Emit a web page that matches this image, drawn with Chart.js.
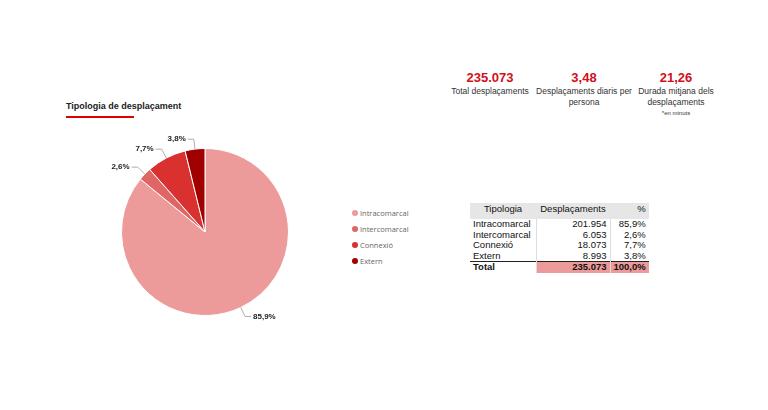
<!DOCTYPE html>
<html>
<head>
<meta charset="utf-8">
<script src="https://cdn.jsdelivr.net/npm/chart.js@4"></script>
<style>
  body { margin: 0; width: 768px; height: 410px; background: #fff; font-family: Arial, "Liberation Sans", sans-serif; position: relative; overflow: hidden; }
  .title { position: absolute; left: 66px; top: 101px; font-size: 9px; font-weight: bold; color: #222; }
  .title-line { position: absolute; left: 66px; top: 116px; width: 68px; height: 2px; background: #d00; }
  #wrap { position: absolute; left: 60px; top: 120px; width: 290px; height: 230px; }
  .kpi { position: absolute; top: 70px; text-align: center; color: #333; font-size: 8.5px; line-height: 11px; }
  .kpi b { display: block; color: #d0101a; font-size: 13px; line-height: 16px; }
  .kpi small { display: block; font-size: 6px; line-height: 10px; }
  .legend { position: absolute; left: 352px; top: 205px; font-family: "Open Sans", sans-serif; font-size: 7.5px; color: #666; }
  .legend div { height: 16px; display: flex; align-items: center; }
  .legend span { display: inline-block; width: 6px; height: 6px; border-radius: 50%; margin-right: 2px; }
  table { position: absolute; left: 470px; top: 203px; border-collapse: collapse; font-size: 9.5px; color: #111; }
  td, th { padding: 0 3px; line-height: 10.5px; }
  th { background: #e6e6e6; font-weight: normal; height: 16px; vertical-align: top; line-height: 12px; }
  td.n { text-align: right; }
  td + td { border-left: 1px solid #ddd; }
  tr.total td { font-weight: bold; border-top: 1px solid #222; }
  tr.total td.n { background: #ec9a9a; }
</style>
</head>
<body>
<div class="title">Tipologia de desplaçament</div>
<div class="title-line"></div>
<div id="wrap"><canvas id="pie"></canvas></div>

<div class="kpi" style="left:440px;width:100px"><b>235.073</b>Total desplaçaments</div>
<div class="kpi" style="left:530px;width:108px"><b>3,48</b>Desplaçaments diaris per persona</div>
<div class="kpi" style="left:632px;width:88px"><b>21,26</b>Durada mitjana dels desplaçaments<small>*en minuts</small></div>

<div class="legend" id="legend"></div>
<table id="tbl"></table>

<script>
const categories = ['Intracomarcal', 'Intercomarcal', 'Connexió', 'Extern'];
const trips = [201954, 6053, 18073, 8993];
const shares = ['85,9%', '2,6%', '7,7%', '3,8%'];
const colors = ['#ec9a9a', '#e06666', '#d93030', '#a00000'];
const totalTrips = '235.073';
const totalShare = '100,0%';

const fmt = v => v.toLocaleString('de-DE');

// legend + table
document.getElementById('legend').innerHTML = categories.map((c, i) =>
    `<div><span style="background:${colors[i]}"></span>${c}</div>`).join('');
let rows = '<tr><th style="width:60px;text-align:center">Tipologia</th><th style="width:68px">Desplaçaments</th><th style="width:30px;text-align:right">%</th></tr>';
categories.forEach((c, i) => {
    rows += `<tr><td>${c}</td><td class="n">${fmt(trips[i])}</td><td class="n">${shares[i]}</td></tr>`;
});
rows += `<tr class="total"><td>Total</td><td class="n">${totalTrips}</td><td class="n">${totalShare}</td></tr>`;
document.getElementById('tbl').innerHTML = rows;

// outside labels with leader lines
const outLabels = {
    id: 'outLabels',
    afterDatasetsDraw(chart) {
        const ctx = chart.ctx;
        const meta = chart.getDatasetMeta(0);
        ctx.save();
        ctx.font = 'bold 8px Arial';
        ctx.fillStyle = '#222';
        ctx.strokeStyle = '#999';
        ctx.lineWidth = 0.8;
        meta.data.forEach((arc, i) => {
            const mid = (arc.startAngle + arc.endAngle) / 2;
            const r = arc.outerRadius;
            const cos = Math.cos(mid), sin = Math.sin(mid);
            const x1 = arc.x + cos * r, y1 = arc.y + sin * r;
            const x2 = arc.x + cos * (r + 10), y2 = arc.y + sin * (r + 10);
            const right = cos >= 0;
            const x3 = x2 + (right ? 6 : -6);
            ctx.beginPath();
            ctx.moveTo(x1, y1); ctx.lineTo(x2, y2); ctx.lineTo(x3, y2);
            ctx.stroke();
            ctx.textAlign = right ? 'left' : 'right';
            ctx.textBaseline = 'middle';
            ctx.fillText(shares[i], x3 + (right ? 2 : -2), y2);
        });
        ctx.restore();
    }
};

new Chart(document.getElementById('pie'), {
    type: 'pie',
    data: {
        labels: categories,
        datasets: [{ data: trips, backgroundColor: colors, borderColor: '#fff', borderWidth: 1 }]
    },
    options: {
        responsive: true,
        maintainAspectRatio: false,
        animation: false,
        layout: { padding: { top: 28, bottom: 34, left: 0, right: 0 } },
        plugins: { legend: { display: false }, tooltip: { enabled: false } }
    },
    plugins: [outLabels]
});
</script>
</body>
</html>
